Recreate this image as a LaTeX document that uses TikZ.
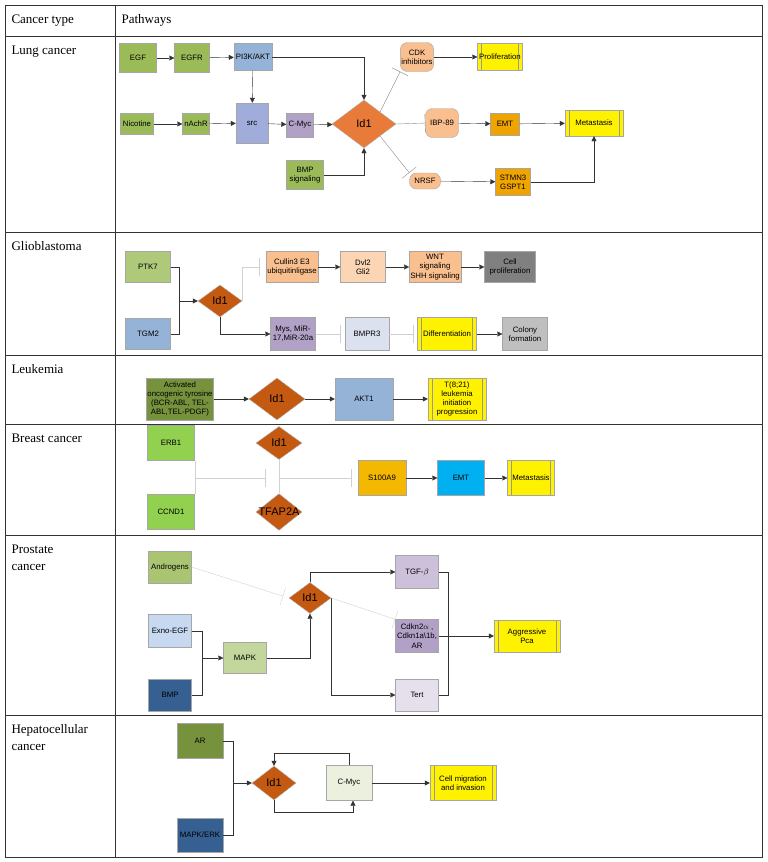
\documentclass[tikz,border=0pt]{standalone}
\usepackage{fontspec}
\setmainfont{Liberation Serif}
\newfontfamily\boxfont{Liberation Sans}
\usetikzlibrary{arrows.meta,shapes.geometric}
\definecolor{olv}{RGB}{155,187,89}
\definecolor{dolv}{RGB}{118,146,60}
\definecolor{lolv}{RGB}{195,214,155}
\definecolor{lblu}{RGB}{149,179,215}
\definecolor{pblu}{RGB}{198,217,241}
\definecolor{dblu}{RGB}{54,96,146}
\definecolor{lav}{RGB}{160,172,218}
\definecolor{pur}{RGB}{178,161,199}
\definecolor{lpur}{RGB}{204,192,218}
\definecolor{ppur}{RGB}{230,224,236}
\definecolor{pale}{RGB}{220,225,240}
\definecolor{idor}{RGB}{232,123,58}
\definecolor{iddk}{RGB}{196,89,17}
\definecolor{salm}{RGB}{250,191,143}
\definecolor{peach}{RGB}{252,213,180}
\definecolor{amb}{RGB}{240,164,0}
\definecolor{gold}{RGB}{245,184,0}
\definecolor{skyb}{RGB}{0,176,240}
\definecolor{lime}{RGB}{146,208,80}
\definecolor{mint}{RGB}{235,241,222}
\begin{document}
\begin{tikzpicture}[x=1pt,y=-1pt,
  box/.style={draw=black!35,fill=#1,minimum width=40pt,minimum height=28pt,inner sep=1pt,
    align=center,font=\boxfont\fontsize{7.8}{9.3}\selectfont},
  rbox/.style={box=salm,rounded corners=7pt},
  proc/.style={box=yellow,path picture={
    \draw[black!40] ([xshift=4pt]path picture bounding box.north west) -- ([xshift=4pt]path picture bounding box.south west);
    \draw[black!40] ([xshift=-4pt]path picture bounding box.north east) -- ([xshift=-4pt]path picture bounding box.south east);}},
  id/.style={diamond,draw=black!30,fill=#1,inner sep=0pt,font=\boxfont\fontsize{11}{12}\selectfont},
  act/.style={draw=black!80,-{Triangle[length=5pt,width=5pt]}},
  inh/.style={draw=black!45,-{Bar[width=18pt]}},
  inhl/.style={draw=black!18,-{Bar[width=18pt]}},
  lbl/.style={anchor=north west,align=left,font=\fontsize{13}{17}\selectfont}]
\useasboundingbox (0,0) rectangle (768,862);
% table
\draw[black!80] (5,5) rectangle (762,857);
\draw[black!80] (115,5) -- (115,857);
\foreach \y in {36,232,355,424,535,715} \draw[black!80] (5,\y) -- (762,\y);
\node[lbl] at (8,11) {Cancer type};
\node[lbl] at (118,11) {Pathways};
\node[lbl] at (8,42) {Lung cancer};
\node[lbl] at (8,238) {Glioblastoma};
\node[lbl] at (8,361) {Leukemia};
\node[lbl] at (8,430) {Breast cancer};
\node[lbl] at (8,541) {Prostate\\cancer};
\node[lbl] at (8,721) {Hepatocellular\\cancer};
% lung cancer
\node[box=olv,minimum width=37pt,minimum height=29pt] (egf) at (138,58) {EGF};
\node[box=olv,minimum width=35pt,minimum height=29pt] (egfr) at (192,58) {EGFR};
\node[box=lblu,minimum width=38pt,minimum height=27pt] (pik) at (253,57) {PI3K/AKT};
\node[rbox,minimum width=33pt,minimum height=29pt] (cdk) at (417,57) {CDK\\inhibitors};
\node[proc,minimum width=45pt,minimum height=27pt] (prol) at (500,57) {Proliferation};
\node[box=olv,minimum width=33pt,minimum height=21pt] (nic) at (137,124) {Nicotine};
\node[box=olv,minimum width=27pt,minimum height=21pt] (nach) at (196,124) {nAchR};
\node[box=lav,minimum width=32pt,minimum height=40pt] (src) at (252,123) {src};
\node[box=pur,minimum width=27pt,minimum height=24pt] (myc) at (300,125) {C-Myc};
\node[id=idor,minimum width=64pt,minimum height=48pt] (lid) at (364,124) {Id1};
\node[rbox,minimum width=33pt,minimum height=29pt] (ibp) at (442,123) {IBP-89};
\node[box=amb,minimum width=29pt,minimum height=22pt] (lemt) at (505,124) {EMT};
\node[proc,minimum width=58pt,minimum height=26pt] (lmet) at (594,123) {Metastasis};
\node[box=olv,minimum width=37pt,minimum height=29pt] (bmps) at (305,175) {BMP\\signaling};
\node[rbox,minimum width=31pt,minimum height=16pt] (nrsf) at (425,181) {NRSF};
\node[box=amb,minimum width=35pt,minimum height=27pt] (stm) at (513,182) {STMN3\\GSPT1};
\draw[act] (egf) -- (egfr);
\draw[act] (egfr) -- (pik);
\draw[act] (pik.east) -| (lid.north);
\draw[act] (pik) -- (src);
\draw[act] (nic) -- (nach);
\draw[act] (nach) -- (src);
\draw[act] (src) -- (myc);
\draw[act] (myc) -- (lid);
\draw[act] (bmps.east) -| (lid.south);
\draw[inh] (lid.north east) -- (cdk.south west);
\draw[inh] (lid.east) -- (ibp.west);
\draw[inh] (lid.south east) -- (nrsf.north west);
\draw[act] (cdk) -- (prol);
\draw[act] (ibp) -- (lemt);
\draw[act] (lemt) -- (lmet);
\draw[act] (nrsf) -- (stm);
\draw[act] (stm.east) -| (lmet.south);
% glioblastoma
\node[box=olv!80,minimum width=45pt,minimum height=31pt] (ptk) at (148,267) {PTK7};
\node[box=lblu,minimum width=45pt,minimum height=31pt] (tgm) at (148,334) {TGM2};
\node[id=iddk,minimum width=44pt,minimum height=32pt] (gid) at (220,301) {Id1};
\node[box=salm,minimum width=45pt,minimum height=31pt] (cul) at (292,267) {Cullin3 E3\\ubiquitinligase};
\node[box=peach,minimum width=45pt,minimum height=31pt] (dvl) at (363,267) {Dvl2\\Gli2};
\node[box=salm,minimum width=45pt,minimum height=31pt] (wnt) at (435,267) {WNT\\signaling\\SHH signaling};
\node[box=black!50,minimum width=51pt,minimum height=31pt] (cpro) at (510,267) {Cell\\proliferation};
\node[box=pur,minimum width=45pt,minimum height=33pt] (mys) at (293,334) {Mys, MiR-\\17,MiR-20a};
\node[box=pale,minimum width=44pt,minimum height=33pt] (bmpr) at (367,334) {BMPR3};
\node[proc,minimum width=59pt,minimum height=33pt] (diff) at (447,334) {Differentiation};
\node[box=black!25,minimum width=45pt,minimum height=33pt] (col) at (525,334) {Colony\\formation};
\coordinate (gj) at (179,301);
\draw[black!80] (ptk.east) -| (gj);
\draw[black!80] (tgm.east) -| (gj);
\draw[act] (gj) -- (gid.west);
\draw[inhl,shorten >=7pt] (gid.east) |- (cul.west);
\draw[act] (gid.south) |- (mys.west);
\draw[act] (cul) -- (dvl);
\draw[act] (dvl) -- (wnt);
\draw[act] (wnt) -- (cpro);
\draw[inhl,shorten >=4pt] (mys) -- (bmpr);
\draw[inhl,shorten >=4pt] (bmpr) -- (diff);
\draw[act] (diff) -- (col);
% leukemia
\node[box=dolv,minimum width=57pt,minimum height=42pt] (atk) at (180,399) {Activated\\oncogenic tyrosine\\(BCR-ABL, TEL-\\ABL,TEL-PDGF)};
\node[id=iddk,minimum width=56pt,minimum height=42pt] (kid) at (277,399) {Id1};
\node[box=lblu,minimum width=58pt,minimum height=42pt] (akt) at (364,399) {AKT1};
\node[proc,minimum width=58pt,minimum height=42pt] (tle) at (457,399) {T(8;21)\\leukemia\\initiation\\progression};
\draw[act] (atk) -- (kid);
\draw[act] (kid) -- (akt);
\draw[act] (akt) -- (tle);
% breast cancer
\node[box=lime,minimum width=47pt,minimum height=35pt] (erb) at (171,443) {ERB1};
\node[box=lime,minimum width=47pt,minimum height=35pt] (ccn) at (171,512) {CCND1};
\node[id=iddk,minimum width=46pt,minimum height=33pt] (bid) at (279,443) {Id1};
\node[id=iddk,minimum width=46pt,minimum height=33pt,inner xsep=-6pt] (tfa) at (279,512) {TFAP2A};
\node[box=gold,minimum width=48pt,minimum height=35pt] (s100) at (382,478) {S100A9};
\node[box=skyb,minimum width=47pt,minimum height=35pt] (bemt) at (461,478) {EMT};
\node[proc,minimum width=47pt,minimum height=35pt] (bmet) at (531,478) {Metastasis};
\coordinate (bj) at (195,478);
\coordinate (bk) at (279,478);
\draw[black!18] (erb.south east) -- (ccn.north east);
\draw[black!18] (bid.south) -- (tfa.north);
\draw[inhl,shorten >=14pt] (bj) -- (bk);
\draw[inhl,shorten >=6pt] (bk) -- (s100.west);
\draw[act] (s100) -- (bemt);
\draw[act] (bemt) -- (bmet);
% prostate cancer
\node[box=olv!85,minimum width=43pt,minimum height=32pt] (andr) at (170,567) {Androgens};
\node[box=pblu,minimum width=43pt,minimum height=33pt] (exn) at (170,631) {Exno-EGF};
\node[box=dblu,minimum width=43pt,minimum height=32pt] (pbmp) at (170,695) {BMP};
\node[box=lolv,minimum width=43pt,minimum height=31pt] (mapk) at (245,658) {MAPK};
\node[id=iddk,minimum width=42pt,minimum height=31pt] (pid) at (310,598) {Id1};
\node[box=lpur,minimum width=43pt,minimum height=33pt] (tgf) at (417,572) {TGF-$\beta$};
\node[box=pur,minimum width=43pt,minimum height=33pt] (cdkn) at (417,636) {Cdkn2$\alpha$ ,\\Cdkn1a\textbackslash 1b,\\AR};
\node[box=ppur,minimum width=43pt,minimum height=32pt] (tert) at (417,695) {Tert};
\node[proc,minimum width=66pt,minimum height=32pt] (agg) at (527,636) {Aggressive\\Pca};
\coordinate (pj) at (202,658);
\coordinate (pt) at (448,636);
\draw[inhl,shorten >=6pt] (andr.east) -- (pid.west);
\draw[black!80] (exn.east) -| (pj);
\draw[black!80] (pbmp.east) -| (pj);
\draw[act] (pj) -- (mapk);
\draw[act] (mapk.east) -| (pid.south);
\draw[act] (pid.north) |- (tgf.west);
\draw[act] (pid.east) |- (tert.west);
\draw[inhl] (pid.east) -- (cdkn.north west);
\draw[black!80] (tgf.east) -| (pt);
\draw[black!80] (tert.east) -| (pt);
\draw[act] (cdkn) -- (agg);
% hepatocellular cancer
\node[box=dolv,minimum width=46pt,minimum height=35pt] (har) at (200,741) {AR};
\node[box=dblu,minimum width=46pt,minimum height=34pt] (erk) at (200,835) {MAPK/ERK};
\node[id=iddk,minimum width=44pt,minimum height=34pt] (hid) at (274,783) {Id1};
\node[box=mint,minimum width=46pt,minimum height=35pt] (hmyc) at (349,783) {C-Myc};
\node[proc,minimum width=66pt,minimum height=35pt] (cmi) at (463,783) {Cell migration\\and invasion};
\coordinate (hj) at (233,783);
\draw[black!80] (har.east) -| (hj);
\draw[black!80] (erk.east) -| (hj);
\draw[act] (hj) -- (hid);
\draw[act] (hmyc.north) -- ++(0,-12) -| (hid.north);
\draw[act] (hid.south) -- ++(0,12) -| ([xshift=4pt]hmyc.south);
\draw[act] (hmyc) -- (cmi);
\end{tikzpicture}
\end{document}
